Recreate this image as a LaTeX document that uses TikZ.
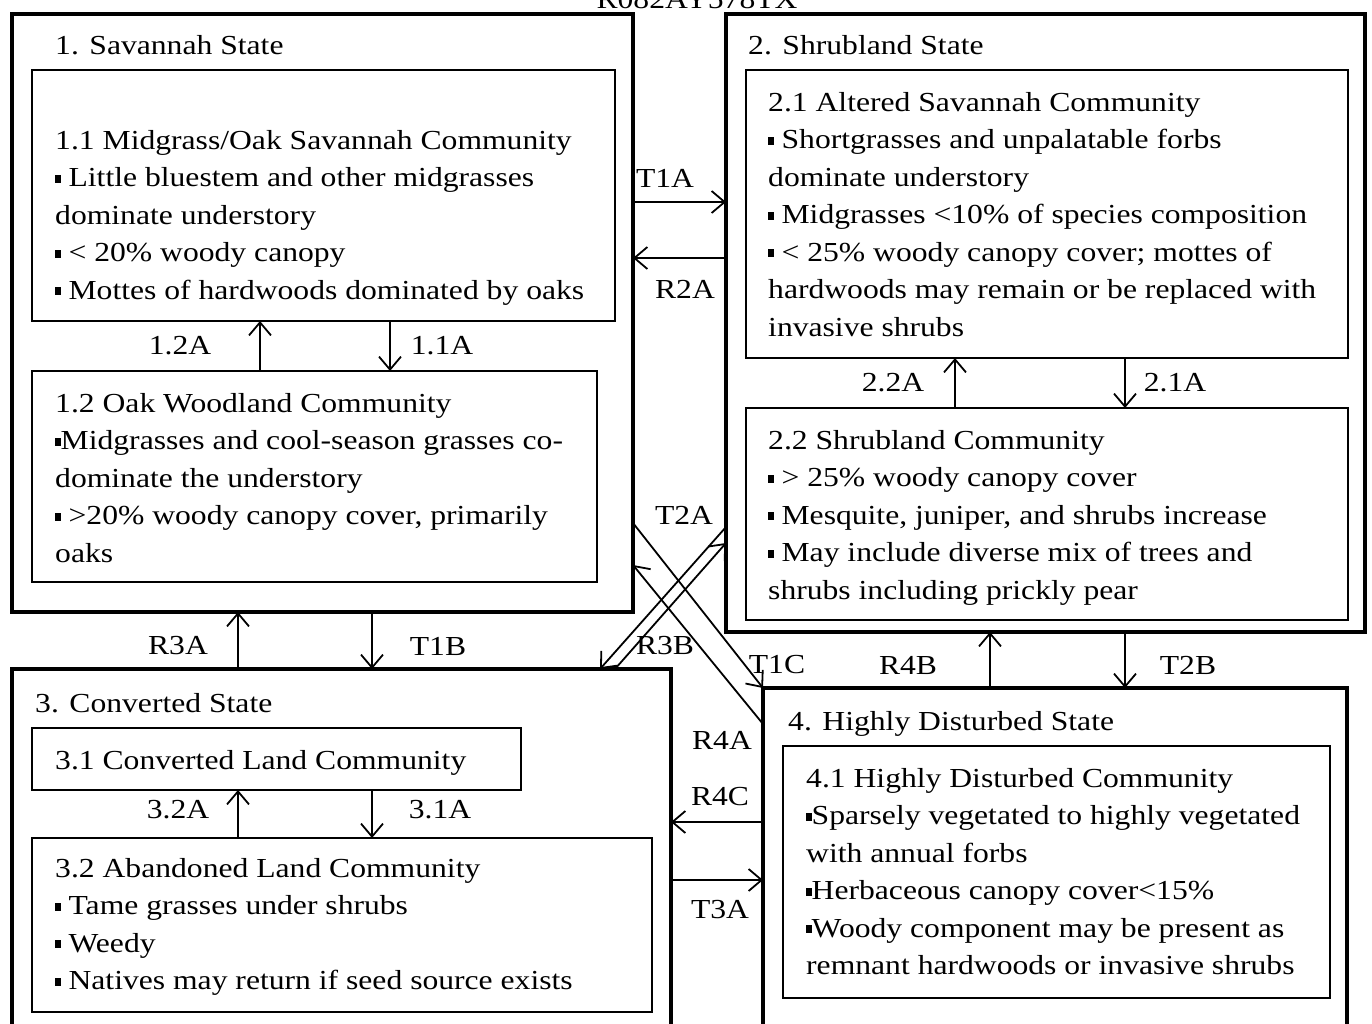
\documentclass[tikz,border=0pt]{standalone}
\usepackage{fontspec}
\setmainfont{Liberation Serif}[FakeStretch=1.15]
\usetikzlibrary{arrows.meta}
\newcommand\bsq{\rule[4pt]{5.5pt}{8pt}}
\begin{document}
\begin{tikzpicture}[x=1pt,y=-1pt,
 outer/.style={draw, line width=4pt, inner sep=0pt, outer sep=0pt},
 inner/.style={draw, line width=2.2pt, inner sep=0pt, outer sep=0pt},
 txt/.style={anchor=north west, inner sep=0pt, align=left, font=\fontsize{27.5}{37.5}\selectfont},
 lab/.style={inner sep=0pt, font=\fontsize{27.5}{37.5}\selectfont},
 arr/.style={line width=1.8pt, -{Straight Barb[length=13pt,width=22pt]}}]
\fill[white] (0,0) rectangle (1372,1023);
\useasboundingbox (0,0) rectangle (1372,1023);
% outer state boxes
\node[outer, minimum width=621pt, minimum height=598pt] (box1) at (322.5,313) {};
\node[outer, minimum width=639pt, minimum height=618pt] (box2) at (1045.5,323) {};
\node[outer, minimum width=659pt, minimum height=371pt] (box3) at (341.5,854.5) {};
\node[outer, minimum width=584pt, minimum height=352pt] (box4) at (1055,864) {};
% inner community boxes
\node[inner, minimum width=583pt, minimum height=251pt] (in11) at (323.5,195.5) {};
\node[inner, minimum width=565pt, minimum height=211pt] (in12) at (314.5,476.5) {};
\node[inner, minimum width=602pt, minimum height=288pt] (in21) at (1047,214) {};
\node[inner, minimum width=602pt, minimum height=212pt] (in22) at (1047,514) {};
\node[inner, minimum width=489pt, minimum height=62pt] (in31) at (276.5,759) {};
\node[inner, minimum width=620pt, minimum height=174pt] (in32) at (342,925) {};
\node[inner, minimum width=547pt, minimum height=252pt] (in41) at (1056.5,872) {};
% connectors
\draw[arr] (in12.north -| 260,0) -- (in11.south -| 260,0);
\draw[arr] (in11.south -| 390,0) -- (in12.north -| 390,0);
\draw[arr] (box1.east |- 0,202) -- (box2.west |- 0,202);
\draw[arr] (box2.west |- 0,258) -- (box1.east |- 0,258);
\draw[arr] (in22.north -| 955,0) -- (in21.south -| 955,0);
\draw[arr] (in21.south -| 1125,0) -- (in22.north -| 1125,0);
\draw[arr] (box3.north -| 238,0) -- (box1.south -| 238,0);
\draw[arr] (box1.south -| 372,0) -- (box3.north -| 372,0);
\draw[arr] (box4.north -| 990,0) -- (box2.south -| 990,0);
\draw[arr] (box2.south -| 1125,0) -- (box4.north -| 1125,0);
\draw[arr] (in32.north -| 238,0) -- (in31.south -| 238,0);
\draw[arr] (in31.south -| 372,0) -- (in32.north -| 372,0);
\draw[arr] (box4.west |- 0,822) -- (box3.east |- 0,822);
\draw[arr] (box3.east |- 0,880) -- (box4.west |- 0,880);
\draw[arr] (box1.east |- 0,523) -- (box4.north west);
\draw[arr] (box4.west |- 0,724) -- (box1.east |- 0,565);
\draw[arr] (box2.west |- 0,527) -- (box3.north -| 600,0);
\draw[arr] (box3.north -| 615,0) -- (box2.west |- 0,543);
% texts
\node[lab, anchor=base] (code) at (697,8) {R082AY578TX};
\node[txt] (t1) at (55,28) {\strut 1. Savannah State};
\node[txt] (t11) at (55,123) {\strut 1.1 Midgrass/Oak Savannah Community\\ \bsq\ Little bluestem and other midgrasses\\ dominate understory\\ \bsq\ < 20\% woody canopy\\ \bsq\ Mottes of hardwoods dominated by oaks};
\node[txt] (t12) at (55,386) {\strut 1.2 Oak Woodland Community\\ \bsq Midgrasses and cool-season grasses co-\\ dominate the understory\\ \bsq\ >20\% woody canopy cover, primarily\\ oaks};
\node[txt] (t2) at (748,28) {\strut 2. Shrubland State};
\node[txt] (t21) at (768,85) {\strut 2.1 Altered Savannah Community\\ \bsq\ Shortgrasses and unpalatable forbs\\ dominate understory\\ \bsq\ Midgrasses <10\% of species composition\\ \bsq\ < 25\% woody canopy cover; mottes of\\ hardwoods may remain or be replaced with\\ invasive shrubs};
\node[txt] (t22) at (768,423) {\strut 2.2 Shrubland Community\\ \bsq\ > 25\% woody canopy cover\\ \bsq\ Mesquite, juniper, and shrubs increase\\ \bsq\ May include diverse mix of trees and\\ shrubs including prickly pear};
\node[txt] (t3) at (35,686) {\strut 3. Converted State};
\node[txt] (t31) at (55,743) {\strut 3.1 Converted Land Community};
\node[txt] (t32) at (55,851) {\strut 3.2 Abandoned Land Community\\ \bsq\ Tame grasses under shrubs\\ \bsq\ Weedy\\ \bsq\ Natives may return if seed source exists};
\node[txt] (t4) at (788,704) {\strut 4. Highly Disturbed State};
\node[txt] (t41) at (806,761) {\strut 4.1 Highly Disturbed Community\\ \bsq Sparsely vegetated to highly vegetated\\ with annual forbs\\ \bsq Herbaceous canopy cover<15\%\\ \bsq Woody component may be present as\\ remnant hardwoods or invasive shrubs};
% connector labels
\node[lab] (l12a) at (180,346) {1.2A};
\node[lab] (l11a) at (442,346) {1.1A};
\node[lab] (lt1a) at (665,178) {T1A};
\node[lab] (lr2a) at (685,289) {R2A};
\node[lab] (l22a) at (893,383) {2.2A};
\node[lab] (l21a) at (1175,383) {2.1A};
\node[lab] (lr3a) at (178,646) {R3A};
\node[lab] (lt1b) at (438,646) {T1B};
\node[lab] (lr4b) at (908,665) {R4B};
\node[lab] (lt2b) at (1188,665) {T2B};
\node[lab] (l32a) at (178,810) {3.2A};
\node[lab] (l31a) at (440,810) {3.1A};
\node[lab] (lr4c) at (720,797) {R4C};
\node[lab] (lt3a) at (720,910) {T3A};
\node[lab] (lr4a) at (722,740) {R4A};
\node[lab] (lt1c) at (777,665) {T1C};
\node[lab] (lt2a) at (684,515) {T2A};
\node[lab] (lr3b) at (665,646) {R3B};
\end{tikzpicture}
\end{document}
